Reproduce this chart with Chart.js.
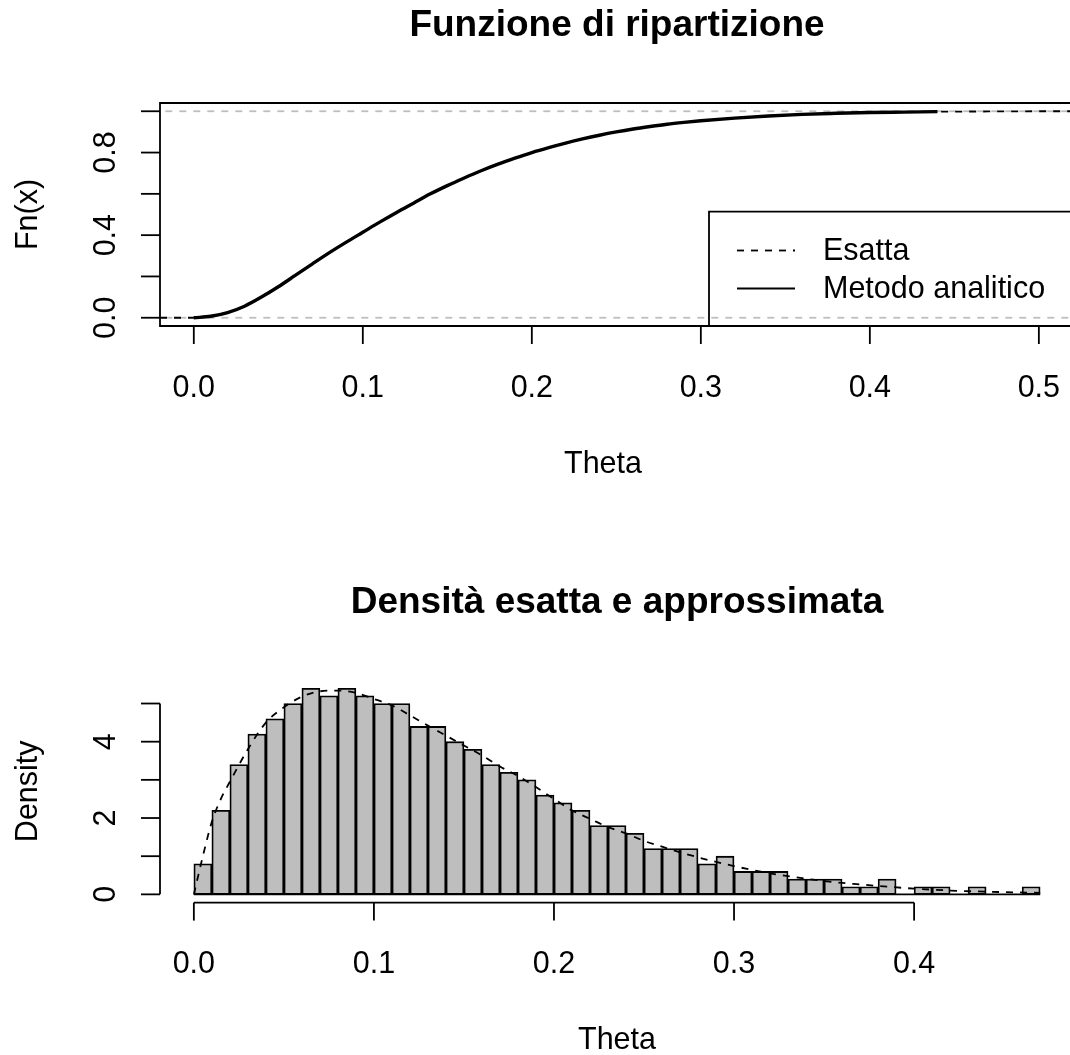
<!DOCTYPE html>
<html>
<head>
<meta charset="utf-8">
<script src="https://cdn.jsdelivr.net/npm/chart.js@4.4.0/dist/chart.umd.min.js"></script>
<style>
html,body{margin:0;padding:0;background:#fff;overflow:hidden;}
#wrap{position:relative;width:1070px;height:1055px;overflow:hidden;background:#fff;}
canvas{position:absolute;left:0;top:0;}
</style>
</head>
<body>
<div id="wrap">
<canvas id="cdfChart" width="1100" height="1055"></canvas>
<canvas id="histChart" width="1100" height="1055"></canvas>
</div>
<script>
// ---------- data ----------
// Top panel: empirical CDF ("Metodo analitico") and exact CDF ("Esatta")
const ecdfTheta  = [0, 0.01, 0.02, 0.03, 0.04, 0.05, 0.06, 0.07, 0.08, 0.09, 0.10, 0.11, 0.12, 0.13, 0.14, 0.15, 0.16, 0.17, 0.18, 0.19, 0.20, 0.21, 0.22, 0.23, 0.24, 0.25, 0.26, 0.27, 0.28, 0.29, 0.30, 0.32, 0.34, 0.36, 0.38, 0.40, 0.42, 0.44];
const ecdfValues = [0, 0.007, 0.025, 0.056, 0.1, 0.15, 0.205, 0.26, 0.314, 0.365, 0.414, 0.463, 0.51, 0.555, 0.6, 0.64, 0.677, 0.712, 0.744, 0.773, 0.8, 0.824, 0.846, 0.866, 0.884, 0.9, 0.914, 0.926, 0.937, 0.946, 0.954, 0.967, 0.977, 0.985, 0.99, 0.994, 0.996, 0.998];
const exactTheta = [-0.02, 0, 0.01, 0.02, 0.03, 0.04, 0.05, 0.06, 0.07, 0.08, 0.09, 0.10, 0.11, 0.12, 0.13, 0.14, 0.15, 0.16, 0.17, 0.18, 0.19, 0.20, 0.21, 0.22, 0.23, 0.24, 0.25, 0.26, 0.27, 0.28, 0.29, 0.30, 0.32, 0.34, 0.36, 0.38, 0.40, 0.42, 0.44, 0.47, 0.50, 0.53];
const exactCdf   = [0, 0, 0.007, 0.025, 0.056, 0.1, 0.15, 0.205, 0.26, 0.314, 0.365, 0.414, 0.463, 0.51, 0.555, 0.6, 0.64, 0.677, 0.712, 0.744, 0.773, 0.8, 0.824, 0.846, 0.866, 0.884, 0.9, 0.914, 0.926, 0.937, 0.946, 0.954, 0.967, 0.977, 0.985, 0.99, 0.994, 0.996, 0.998, 0.999, 1, 1];
const cdfRefLevels = [0, 1];
const cdfXTicks = [0, 0.1, 0.2, 0.3, 0.4, 0.5];
const cdfXTickLabels = ['0.0', '0.1', '0.2', '0.3', '0.4', '0.5'];
const cdfYTicks = [0, 0.2, 0.4, 0.6, 0.8, 1.0];
const cdfYTickLabels = ['0.0', '', '0.4', '', '0.8', ''];
const legendLabels = ['Esatta', 'Metodo analitico'];

// Bottom panel: histogram (density scale) and exact density
const histBreaks = [0, 0.01, 0.02, 0.03, 0.04, 0.05, 0.06, 0.07, 0.08, 0.09, 0.10, 0.11, 0.12, 0.13, 0.14, 0.15, 0.16, 0.17, 0.18, 0.19, 0.20, 0.21, 0.22, 0.23, 0.24, 0.25, 0.26, 0.27, 0.28, 0.29, 0.30, 0.31, 0.32, 0.33, 0.34, 0.35, 0.36, 0.37, 0.38, 0.39, 0.40, 0.41, 0.42, 0.43, 0.44, 0.45, 0.46, 0.47];
const histDensity = [0.8, 2.2, 3.4, 4.2, 4.6, 5.0, 5.4, 5.2, 5.4, 5.2, 5.0, 5.0, 4.4, 4.4, 4.0, 3.8, 3.4, 3.2, 3.0, 2.6, 2.4, 2.2, 1.8, 1.8, 1.6, 1.2, 1.2, 1.2, 0.8, 1.0, 0.6, 0.6, 0.6, 0.4, 0.4, 0.4, 0.2, 0.2, 0.4, 0, 0.2, 0.2, 0, 0.2, 0, 0, 0.2];
const densTheta = [0, 0.005, 0.01, 0.015, 0.02, 0.03, 0.04, 0.05, 0.06, 0.07, 0.08, 0.09, 0.10, 0.11, 0.12, 0.13, 0.14, 0.15, 0.16, 0.17, 0.18, 0.19, 0.20, 0.21, 0.22, 0.23, 0.24, 0.25, 0.26, 0.27, 0.28, 0.29, 0.30, 0.31, 0.32, 0.33, 0.34, 0.35, 0.36, 0.37, 0.38, 0.40, 0.42, 0.44, 0.47];
const densExact = [0, 1.0, 1.9, 2.5, 2.95, 3.8, 4.5, 4.9, 5.18, 5.32, 5.34, 5.28, 5.12, 4.95, 4.69, 4.42, 4.16, 3.9, 3.64, 3.35, 3.1, 2.81, 2.5, 2.2, 1.98, 1.76, 1.6, 1.4, 1.25, 1.1, 0.97, 0.85, 0.74, 0.64, 0.55, 0.48, 0.41, 0.35, 0.3, 0.26, 0.22, 0.15, 0.1, 0.07, 0.04];
const histXTicks = [0, 0.1, 0.2, 0.3, 0.4];
const histXTickLabels = ['0.0', '0.1', '0.2', '0.3', '0.4'];
const histYTicks = [0, 1, 2, 3, 4, 5];
const histYTickLabels = ['0', '', '2', '', '4', ''];

// ---------- styling helpers ----------
const FONT = '30.5px "Liberation Sans", Arial, Helvetica, sans-serif';
const BOLD = 'bold 37px "Liberation Sans", Arial, Helvetica, sans-serif';
const LW = 1.8;
const DASH = [7, 7];

function seg(ctx, x1, y1, x2, y2) { ctx.beginPath(); ctx.moveTo(x1, y1); ctx.lineTo(x2, y2); ctx.stroke(); }
function vtext(ctx, t, x, y) {
  ctx.save(); ctx.translate(x, y); ctx.rotate(-Math.PI / 2);
  ctx.textAlign = 'center'; ctx.textBaseline = 'alphabetic'; ctx.fillText(t, 0, 0); ctx.restore();
}

// ---------- top chart ----------
const topDecor = {
  id: 'topDecor',
  afterDraw(chart) {
    const { ctx, chartArea: a, scales: { x, y } } = chart;
    ctx.save();
    ctx.strokeStyle = '#000'; ctx.fillStyle = '#000'; ctx.lineWidth = LW; ctx.setLineDash([]);
    ctx.beginPath(); ctx.moveTo(a.right, a.top); ctx.lineTo(a.left, a.top); ctx.lineTo(a.left, a.bottom); ctx.lineTo(a.right, a.bottom); ctx.stroke();
    ctx.font = FONT; ctx.textAlign = 'center'; ctx.textBaseline = 'alphabetic';
    cdfXTicks.forEach((v, i) => { const px = x.getPixelForValue(v); seg(ctx, px, a.bottom, px, a.bottom + 18); ctx.fillText(cdfXTickLabels[i], px, a.bottom + 71); });
    cdfYTicks.forEach((v, i) => { const py = y.getPixelForValue(v); seg(ctx, a.left - 19, py, a.left, py); if (cdfYTickLabels[i]) vtext(ctx, cdfYTickLabels[i], 115, py); });
    ctx.fillText('Theta', 603, a.bottom + 147);
    vtext(ctx, 'Fn(x)', 37, (a.top + a.bottom) / 2);
    ctx.font = BOLD; ctx.fillText('Funzione di ripartizione', 617, 36);
    // legend
    const lx = 709, ly = 211.7;
    ctx.lineWidth = LW;
    ctx.beginPath(); ctx.moveTo(a.right + 5, ly); ctx.lineTo(lx, ly); ctx.lineTo(lx, a.bottom); ctx.stroke();
    const ds = chart.data.datasets;
    [ds[0], ds[1]].forEach((d, i) => {
      const yy = 250.5 + i * 38;
      ctx.setLineDash(d.borderDash || []);
      ctx.lineWidth = LW;
      seg(ctx, 737, yy, 795, yy);
      ctx.setLineDash([]);
      ctx.font = FONT; ctx.textAlign = 'left'; ctx.textBaseline = 'middle';
      ctx.fillText(legendLabels[i], 823, yy + 1);
    });
    ctx.restore();
  }
};

const refDatasets = cdfRefLevels.map((lv, i) => ({
  label: 'ref' + i,
  data: [{ x: -0.05, y: lv }, { x: 0.6, y: lv }],
  borderColor: '#BEBEBE', borderWidth: LW, borderDash: DASH,
  pointRadius: 0, order: 3 + i
}));

new Chart(document.getElementById('cdfChart'), {
  type: 'line',
  data: {
    datasets: [
      { label: legendLabels[0], data: exactTheta.map((t, i) => ({ x: t, y: exactCdf[i] })),
        borderColor: '#000', borderWidth: LW, borderDash: DASH, pointRadius: 0,
        cubicInterpolationMode: 'monotone', order: 0 },
      { label: legendLabels[1], data: ecdfTheta.map((t, i) => ({ x: t, y: ecdfValues[i] })),
        borderColor: '#000', borderWidth: 3.4, pointRadius: 0,
        cubicInterpolationMode: 'monotone', order: 1 },
      ...refDatasets
    ]
  },
  options: {
    responsive: false, animation: false, devicePixelRatio: 1,
    layout: { padding: { left: 160, top: 103, right: 15, bottom: 729 } },
    scales: {
      x: { type: 'linear', min: -0.02, max: 0.5273, display: false },
      y: { type: 'linear', min: -0.04, max: 1.04, display: false }
    },
    plugins: { legend: { display: false }, tooltip: { enabled: false } }
  },
  plugins: [topDecor]
});

// ---------- bottom chart ----------
const histDecor = {
  id: 'histDecor',
  beforeDatasetsDraw(chart) {
    const { ctx, scales: { x, y } } = chart;
    ctx.save(); ctx.strokeStyle = '#000'; ctx.lineWidth = LW;
    const y0 = y.getPixelForValue(0);
    seg(ctx, x.getPixelForValue(histBreaks[0]), y0, x.getPixelForValue(histBreaks[histBreaks.length - 1]), y0);
    ctx.restore();
  },
  afterDraw(chart) {
    const { ctx, chartArea: a, scales: { x, y } } = chart;
    ctx.save();
    ctx.strokeStyle = '#000'; ctx.fillStyle = '#000'; ctx.lineWidth = LW; ctx.setLineDash([]);
    seg(ctx, a.left, y.getPixelForValue(histYTicks[0]), a.left, y.getPixelForValue(histYTicks[histYTicks.length - 1]));
    ctx.font = FONT;
    histYTicks.forEach((v, i) => { const py = y.getPixelForValue(v); seg(ctx, a.left - 19, py, a.left, py); if (histYTickLabels[i]) vtext(ctx, histYTickLabels[i], 115, py); });
    seg(ctx, x.getPixelForValue(histXTicks[0]), a.bottom, x.getPixelForValue(histXTicks[histXTicks.length - 1]), a.bottom);
    ctx.textAlign = 'center'; ctx.textBaseline = 'alphabetic';
    histXTicks.forEach((v, i) => { const px = x.getPixelForValue(v); seg(ctx, px, a.bottom, px, a.bottom + 18); ctx.fillText(histXTickLabels[i], px, a.bottom + 70); });
    ctx.fillText('Theta', 617, a.bottom + 146);
    vtext(ctx, 'Density', 37, (a.top + a.bottom) / 2);
    ctx.font = BOLD; ctx.fillText('Densità esatta e approssimata', 617, 613);
    ctx.restore();
  }
};

const binData = histDensity.map((d, i) => ({ x: (histBreaks[i] + histBreaks[i + 1]) / 2, y: d }));

new Chart(document.getElementById('histChart'), {
  type: 'bar',
  data: {
    datasets: [
      { type: 'line', label: 'Esatta', data: densTheta.map((t, i) => ({ x: t, y: densExact[i] })),
        borderColor: '#000', borderWidth: LW, borderDash: DASH, pointRadius: 0,
        cubicInterpolationMode: 'monotone', order: 0 },
      { type: 'bar', label: 'Istogramma', data: binData,
        backgroundColor: '#BEBEBE', borderColor: '#000', borderWidth: LW, borderSkipped: false,
        barPercentage: 1, categoryPercentage: 1, order: 1 }
    ]
  },
  options: {
    responsive: false, animation: false, devicePixelRatio: 1,
    layout: { padding: { left: 160, top: 680, right: 26, bottom: 152.4 } },
    scales: {
      x: { type: 'linear', min: -0.0188, max: 0.4888, offset: false, display: false },
      y: { type: 'linear', min: -0.216, max: 5.616, display: false }
    },
    plugins: { legend: { display: false }, tooltip: { enabled: false } }
  },
  plugins: [histDecor]
});
</script>
</body>
</html>
